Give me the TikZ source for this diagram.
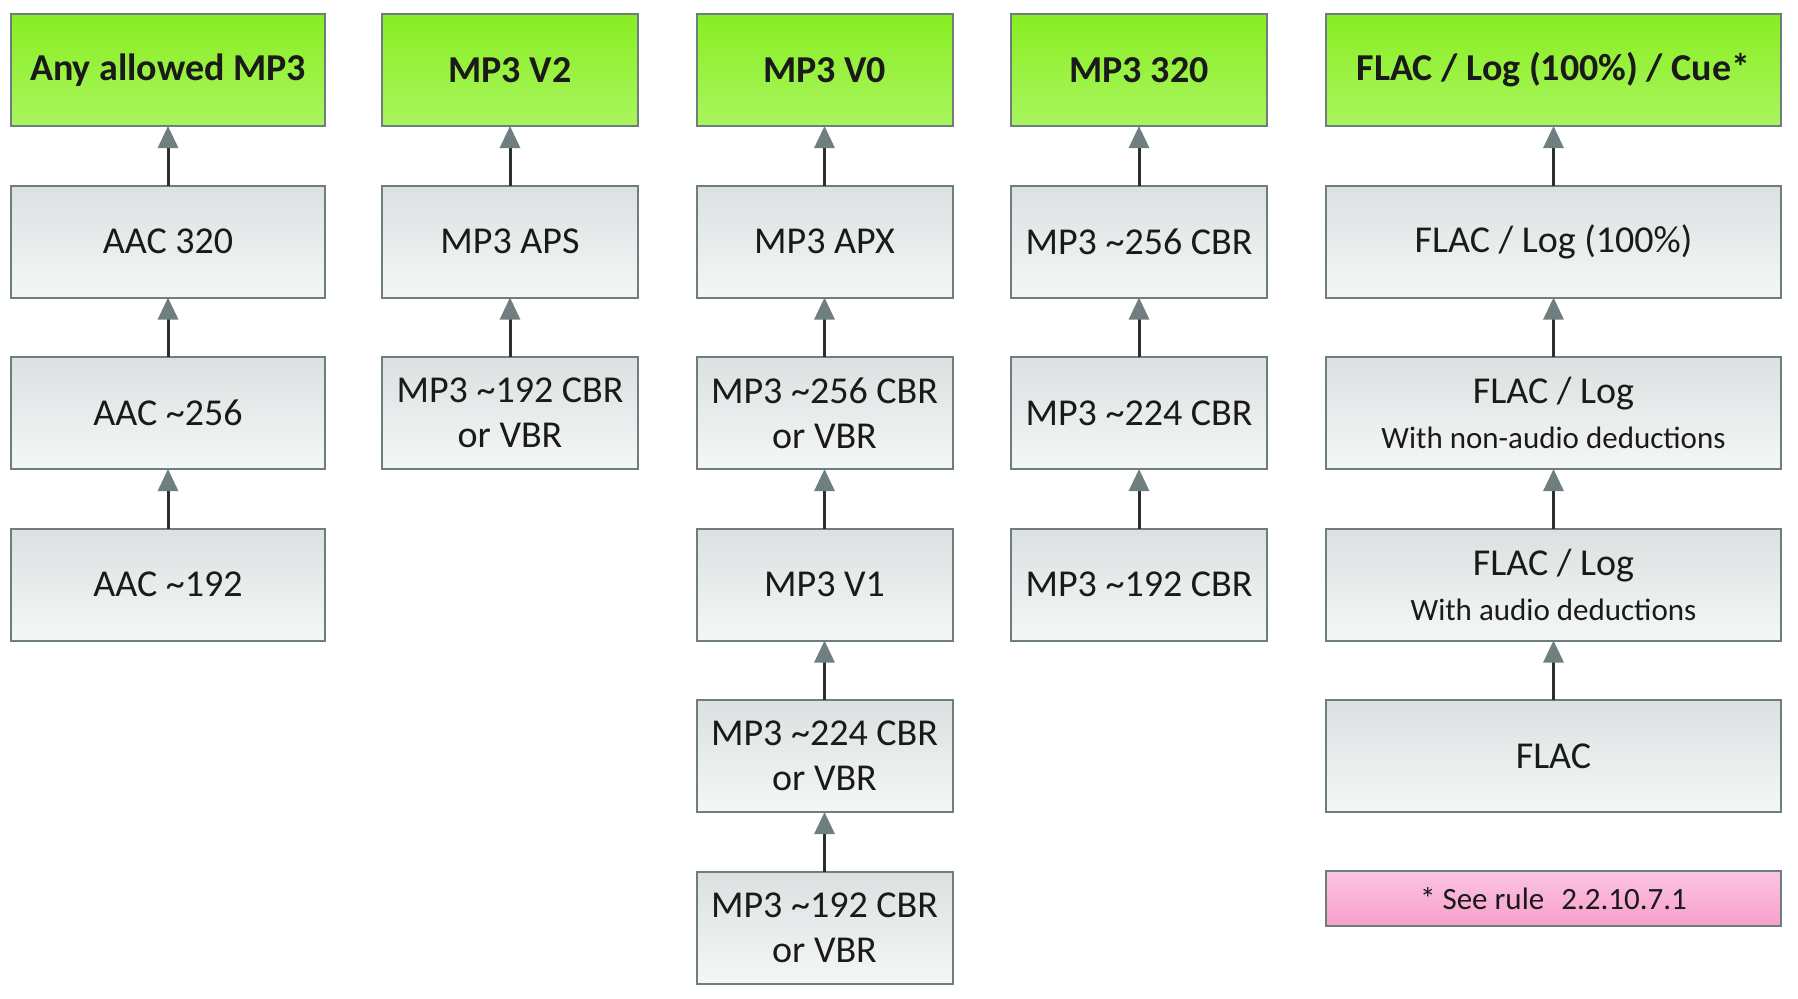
\documentclass[tikz,border=0pt]{standalone}
\usepackage{fontspec}
\setmainfont{Carlito}
\usetikzlibrary{arrows.meta}
\definecolor{bordc}{HTML}{6E7E7E}
\definecolor{gtop}{HTML}{DCE0E0}
\definecolor{gbot}{HTML}{F5F7F7}
\definecolor{ntop}{HTML}{88EE22}
\definecolor{nbot}{HTML}{AAF55E}
\definecolor{ptop}{HTML}{FBC3E2}
\definecolor{pbot}{HTML}{F7A0CA}
\definecolor{txt}{HTML}{1A1A1A}
\definecolor{linec}{HTML}{2A2E2E}
\definecolor{headc}{HTML}{6F7F80}
\begin{document}
\begin{tikzpicture}[x=1pt,y=1pt,
  box/.style={draw=bordc, line width=2pt, top color=gtop, bottom color=gbot,
    minimum height=112pt, inner sep=0pt, outer sep=0pt, align=center,
    font=\fontsize{38}{45}\selectfont, text=txt},
  topbox/.style={box, top color=ntop, bottom color=nbot, font=\fontsize{38}{45}\selectfont\bfseries},
  notebox/.style={box, top color=ptop, bottom color=pbot, minimum height=55pt, font=\fontsize{31}{37}\selectfont},
  wA/.style={minimum width=314pt},
  wB/.style={minimum width=256pt},
  wC/.style={minimum width=455pt},
  up/.style={draw=linec, line width=3pt, -{Triangle[width=20pt,length=22pt,color=headc]}}
]
\useasboundingbox (0,0) rectangle (1798,-998);
\newcommand{\subl}[1]{{\fontsize{31}{45}\selectfont #1}}
% column 1
\node[topbox,wA] (a0) at (168,-70) {Any allowed MP3};
\node[box,wA] (a1) at (168,-241.5) {AAC 320};
\node[box,wA] (a2) at (168,-413) {AAC \textasciitilde256};
\node[box,wA] (a3) at (168,-584.5) {AAC \textasciitilde192};
% column 2
\node[topbox,wB] (b0) at (510,-70) {MP3 V2};
\node[box,wB] (b1) at (510,-241.5) {MP3 APS};
\node[box,wB] (b2) at (510,-413) {MP3 \textasciitilde192 CBR\\or VBR};
% column 3
\node[topbox,wB] (c0) at (824.5,-70) {MP3 V0};
\node[box,wB] (c1) at (824.5,-241.5) {MP3 APX};
\node[box,wB] (c2) at (824.5,-413) {MP3 \textasciitilde256 CBR\\or VBR};
\node[box,wB] (c3) at (824.5,-584.5) {MP3 V1};
\node[box,wB] (c4) at (824.5,-756) {MP3 \textasciitilde224 CBR\\or VBR};
\node[box,wB] (c5) at (824.5,-927.5) {MP3 \textasciitilde192 CBR\\or VBR};
% column 4
\node[topbox,wB] (d0) at (1139,-70) {MP3 320};
\node[box,wB] (d1) at (1139,-241.5) {MP3 \textasciitilde256 CBR};
\node[box,wB] (d2) at (1139,-413) {MP3 \textasciitilde224 CBR};
\node[box,wB] (d3) at (1139,-584.5) {MP3 \textasciitilde192 CBR};
% column 5
\node[topbox,wC] (e0) at (1553.5,-70) {FLAC / Log (100\%) / Cue*};
\node[box,wC] (e1) at (1553.5,-241.5) {FLAC / Log (100\%)};
\node[box,wC] (e2) at (1553.5,-413) {FLAC / Log\\\subl{With non-audio deductions}};
\node[box,wC] (e3) at (1553.5,-584.5) {FLAC / Log\\\subl{With audio deductions}};
\node[box,wC] (e4) at (1553.5,-756) {FLAC};
\node[notebox,wC] (note) at (1553.5,-898.5) {* See rule\hspace{0.55em}2.2.10.7.1};
% arrows
\foreach \lo/\hi in {a1/a0,a2/a1,a3/a2,b1/b0,b2/b1,c1/c0,c2/c1,c3/c2,c4/c3,c5/c4,d1/d0,d2/d1,d3/d2,e1/e0,e2/e1,e3/e2,e4/e3}
  \draw[up] (\lo.north) -- (\hi.south);
\end{tikzpicture}
\end{document}
